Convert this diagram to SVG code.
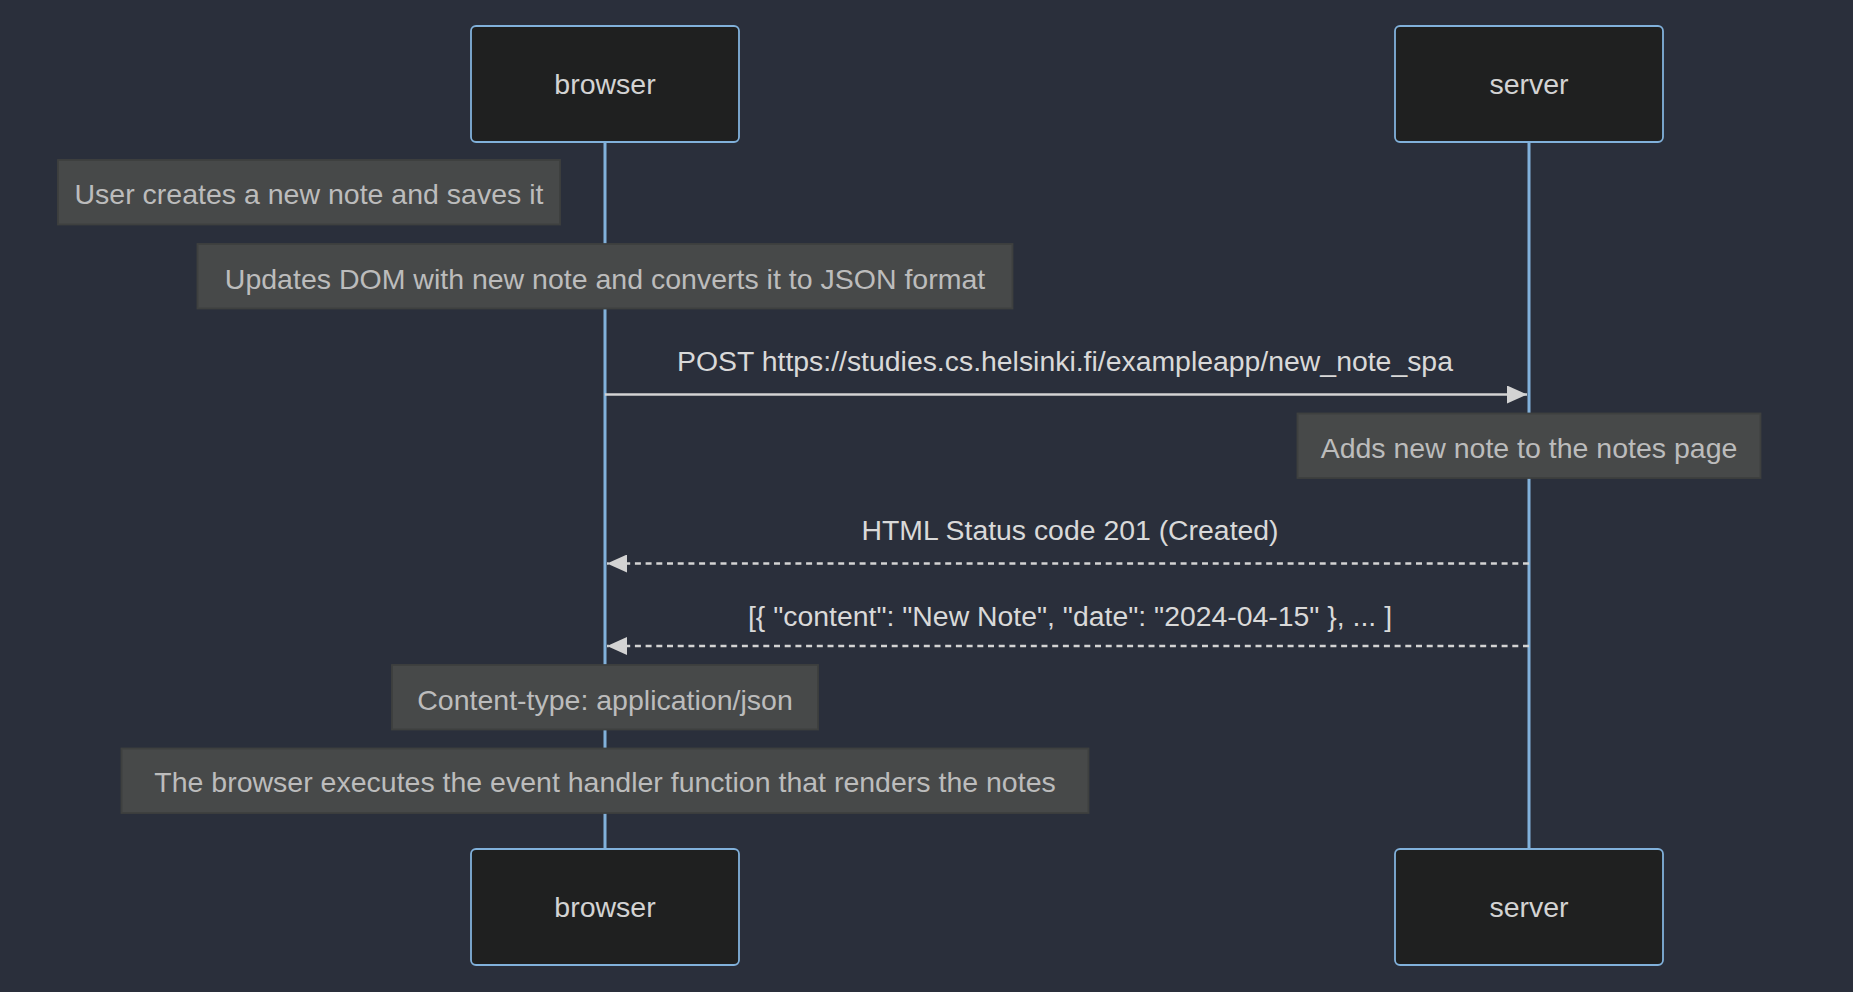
<svg xmlns="http://www.w3.org/2000/svg" width="1853" height="992" viewBox="0 0 1853 992">
<style>
.actor{fill:#1f2020;stroke:#81b1db;stroke-width:1.8}
.actor-text{font-family:"Liberation Sans",Arial,sans-serif;font-size:28.5px;fill:#d3d3d3;text-anchor:middle}
.life{stroke:#81b1db;stroke-width:3}
.note{fill:#474949;stroke:#3e403f;stroke-width:1.8}
.note-text{font-family:"Liberation Sans",Arial,sans-serif;font-size:28.5px;fill:#bcbcbc;text-anchor:middle}
.msg{stroke:#d3d3d3;stroke-width:2.7;fill:none}
.dotted{stroke-dasharray:6 4.7}
.msg-text{font-family:"Liberation Sans",Arial,sans-serif;font-size:28.4px;fill:#d9d9d9;text-anchor:middle}
</style>
<defs>
<marker id="arrow" viewBox="0 0 20 18" refX="20" refY="9" markerWidth="20" markerHeight="18" markerUnits="userSpaceOnUse" orient="auto">
<path d="M0,0 L20,9 L0,18 z" fill="#d3d3d3"/>
</marker>
</defs>
<rect x="0" y="0" width="1853" height="992" fill="#2a2f3b"/>
<g id="lifelines">
<line class="life" x1="605" y1="142" x2="605" y2="849"/>
<line class="life" x1="1529" y1="142" x2="1529" y2="849"/>
</g>
<g id="actor-browser-top">
<rect class="actor" x="471" y="26" width="268" height="116" rx="5"/>
<text class="actor-text" x="605" y="94">browser</text>
</g>
<g id="actor-server-top">
<rect class="actor" x="1395" y="26" width="268" height="116" rx="5"/>
<text class="actor-text" x="1529" y="94">server</text>
</g>
<g id="actor-browser-bottom">
<rect class="actor" x="471" y="849" width="268" height="116" rx="5"/>
<text class="actor-text" x="605" y="917">browser</text>
</g>
<g id="actor-server-bottom">
<rect class="actor" x="1395" y="849" width="268" height="116" rx="5"/>
<text class="actor-text" x="1529" y="917">server</text>
</g>
<g id="note-user">
<rect class="note" x="58" y="160" width="502" height="64.5"/>
<text class="note-text" x="309" y="204">User creates a new note and saves it</text>
</g>
<g id="note-dom">
<rect class="note" x="197.5" y="244" width="815" height="64.5"/>
<text class="note-text" x="605" y="289">Updates DOM with new note and converts it to JSON format</text>
</g>
<g id="note-server">
<rect class="note" x="1297.5" y="413.5" width="463" height="64.5"/>
<text class="note-text" x="1529" y="458">Adds new note to the notes page</text>
</g>
<g id="note-content-type">
<rect class="note" x="392" y="665" width="426" height="64.5"/>
<text class="note-text" x="605" y="709.5">Content-type: application/json</text>
</g>
<g id="note-render">
<rect class="note" x="121.5" y="748.5" width="967" height="64.5"/>
<text class="note-text" x="605" y="792">The browser executes the event handler function that renders the notes</text>
</g>
<g id="connectors">
<line class="msg" x1="605" y1="394.5" x2="1527" y2="394.5" marker-end="url(#arrow)"/>
<text class="msg-text" x="1065" y="370.5">POST https://studies.cs.helsinki.fi/exampleapp/new_note_spa</text>
<line class="msg dotted" x1="1529" y1="563.5" x2="607" y2="563.5" marker-end="url(#arrow)"/>
<text class="msg-text" x="1070" y="539.5">HTML Status code 201 (Created)</text>
<line class="msg dotted" x1="1529" y1="646" x2="607" y2="646" marker-end="url(#arrow)"/>
<text class="msg-text" x="1070" y="626">[{ "content": "New Note", "date": "2024-04-15" }, ... ]</text>
</g>
</svg>
